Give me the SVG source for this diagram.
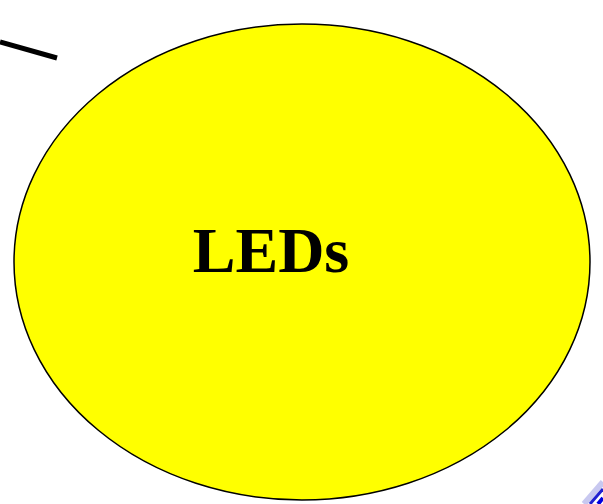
<svg xmlns="http://www.w3.org/2000/svg" width="603" height="504" viewBox="0 0 603 504">
<style>
.lbl{font-family:"Liberation Serif","Times New Roman",serif;font-weight:bold;font-size:64px;fill:#000}
</style>
<rect width="603" height="504" fill="#fff"/>
<g id="connectors">
<line x1="0" y1="42" x2="57" y2="58" stroke="#000" stroke-width="5"/>
<line x1="584" y1="504" x2="603" y2="482" stroke="#c8c8f0" stroke-width="6"/>
<line x1="590" y1="504" x2="603" y2="489" stroke="#2020d0" stroke-width="3"/>
<line x1="598" y1="504" x2="603" y2="498" stroke="#0000e0" stroke-width="4"/>
</g>
<g id="leds">
<ellipse cx="302" cy="262" rx="288" ry="238" fill="#ffff00" stroke="#000" stroke-width="1.5"/>
<text class="lbl" x="271" y="272" text-anchor="middle">LEDs</text>
</g>
</svg>
